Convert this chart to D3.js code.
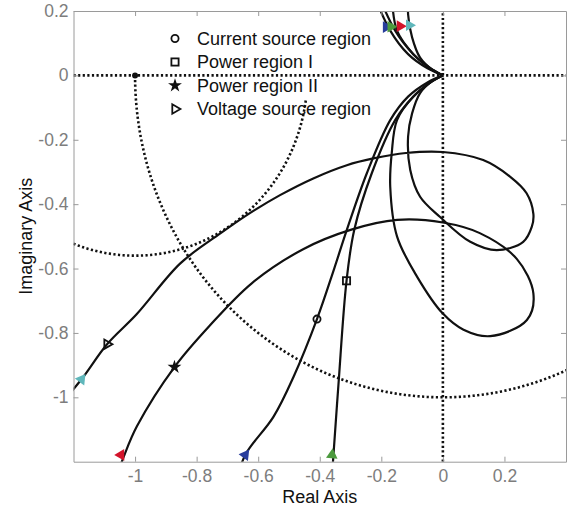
<!DOCTYPE html>
<html lang="en">
<head>
<meta charset="utf-8">
<title>Nyquist</title>
<script src="https://d3js.org/d3.v7.min.js"></script>
<style type="text/css">
  body { margin: 0; background: #fff; }
  text { font-family: "Liberation Sans", Arial, sans-serif; }
  .curve { fill: none; stroke: #111; stroke-width: 2.2; }
  .guide { fill: none; stroke: #111; stroke-width: 2.6; stroke-dasharray: 2.2 2.4; }
  .axis path, .axis line { stroke: #9a9a9a; }
  .axis text { fill: #7d7d7d; font-size: 17.5px; }
</style>
</head>
<body>
<script type="text/javascript">
// tick values
var xTicks = [-1, -0.8, -0.6, -0.4, -0.2, 0, 0.2];
var yTicks = [-1, -0.8, -0.6, -0.4, -0.2, 0, 0.2];

// lower branch of each locus (far end -> origin)
var curveCurrent = [[-0.67,-1.26],[-0.642,-1.179],[-0.55,-1.06],[-0.485,-0.936],[-0.409,-0.757],
  [-0.353,-0.6],[-0.312,-0.48],[-0.247,-0.304],[-0.171,-0.139],[-0.113,-0.066],[-0.05,-0.022],[0,0]];
var curvePower1 = [[-0.362,-1.26],[-0.357,-1.2],[-0.339,-0.957],[-0.313,-0.638],[-0.288,-0.48],
  [-0.231,-0.304],[-0.155,-0.139],[-0.096,-0.066],[-0.045,-0.025],[0,0]];
var curvePower2 = [[-1.065,-1.26],[-1.037,-1.185],[-0.994,-1.09],[-0.872,-0.906],[-0.76,-0.78],[-0.62,-0.645],
  [-0.454,-0.54],[-0.30,-0.48],[-0.149,-0.449],[0,-0.457],[0.12,-0.49],[0.24,-0.57],
  [0.294,-0.677],[0.273,-0.76],[0.154,-0.81],[0.067,-0.79],[0,-0.74],[-0.084,-0.625],[-0.149,-0.50],
  [-0.171,-0.346],[-0.166,-0.24],[-0.149,-0.139],[-0.096,-0.066],[-0.045,-0.025],[0,0]];
var curveVoltage = [[-1.25,-1.03],[-1.174,-0.944],[-1.091,-0.835],[-0.995,-0.742],[-0.853,-0.584],[-0.723,-0.491],
  [-0.637,-0.434],[-0.529,-0.372],[-0.421,-0.32],[-0.312,-0.279],[-0.226,-0.258],[-0.12,-0.241],[0,-0.238],
  [0.131,-0.263],[0.219,-0.315],[0.272,-0.366],[0.294,-0.43],[0.289,-0.47],[0.261,-0.517],[0.175,-0.543],
  [0.089,-0.517],[-0.009,-0.44],[-0.074,-0.377],[-0.106,-0.294],[-0.113,-0.19],[-0.10,-0.118],
  [-0.074,-0.055],[-0.035,-0.018],[0,0]];

// legend / marker points
var legendNames = ["Current source region", "Power region I", "Power region II", "Voltage source region"];
var markerPoints = [[-0.409,-0.757],[-0.313,-0.638],[-0.872,-0.906],[-1.091,-0.835]];

// coloured direction arrows (curve index, x, y)
var arrowColors = ["#283d9c", "#4c9a3e", "#d3142b", "#5fb7bb"];
var arrowsBottom = [[0,-0.642,-1.179],[1,-0.36,-1.179],[2,-1.046,-1.179],[3,-1.174,-0.944]];
var arrowsTop = [[0,-0.184,0.150],[1,-0.169,0.151],[2,-0.139,0.153],[3,-0.109,0.156]];

// guide circles
var unitRadius = 1;
var smallCenter = [-1, 0], smallRadius = 0.56;

var curves = [curveCurrent, curvePower1, curvePower2, curveVoltage];

var width = 571, height = 509;
var x = d3.scaleLinear().domain([-1.2, 0.4]).range([73.5, 566]);
var y = d3.scaleLinear().domain([-1.2, 0.2]).range([461.7, 11]);

var svg = d3.select("body").append("svg")
  .attr("width", width)
  .attr("height", height);

svg.append("clipPath").attr("id", "plot")
  .append("rect")
  .attr("x", x(-1.2)).attr("y", y(0.2))
  .attr("width", x(0.4) - x(-1.2)).attr("height", y(-1.2) - y(0.2));

var plot = svg.append("g").attr("clip-path", "url(#plot)");

var line = d3.line()
  .x(function(d) { return x(d[0]); })
  .y(function(d) { return y(d[1]); });
var smooth = d3.line()
  .x(function(d) { return x(d[0]); })
  .y(function(d) { return y(d[1]); })
  .curve(d3.curveCatmullRom.alpha(0.5));

// dotted guides
plot.append("path").attr("class", "guide")
  .attr("d", line([[-1.2, 0], [0.4, 0]]));
plot.append("path").attr("class", "guide")
  .attr("d", line([[0, -1.2], [0, 0.2]]));
var unitArc = d3.range(-180, 0.5, 1).map(function(a) {
  var t = a * Math.PI / 180;
  return [unitRadius * Math.cos(t), unitRadius * Math.sin(t)];
});
plot.append("path").attr("class", "guide").attr("d", smooth(unitArc));
var smallArc = d3.range(-8, -181, -1).map(function(a) {
  var t = a * Math.PI / 180;
  return [smallCenter[0] + smallRadius * Math.cos(t), smallCenter[1] + smallRadius * Math.sin(t)];
});
plot.append("path").attr("class", "guide").attr("d", smooth(smallArc));
plot.append("circle")
  .attr("cx", x(-1)).attr("cy", y(0)).attr("r", 3)
  .attr("fill", "#111");

// loci and their mirror images
curves.forEach(function(c) {
  plot.append("path").attr("class", "curve").attr("d", smooth(c));
  plot.append("path").attr("class", "curve")
    .attr("d", smooth(c.map(function(p) { return [p[0], -p[1]]; })));
});

// markers
function drawMarker(g, i, px, py) {
  if (i === 0) {
    g.append("circle").attr("cx", px).attr("cy", py).attr("r", 3.6)
      .attr("fill", "none").attr("stroke", "#111").attr("stroke-width", 1.8);
  } else if (i === 1) {
    g.append("rect").attr("x", px - 3.6).attr("y", py - 3.6)
      .attr("width", 7.2).attr("height", 7.2)
      .attr("fill", "none").attr("stroke", "#111").attr("stroke-width", 1.8);
  } else if (i === 2) {
    g.append("path").attr("d", d3.symbol().type(d3.symbolStar).size(60)())
      .attr("transform", "translate(" + px + "," + py + ")")
      .attr("fill", "#111");
  } else {
    g.append("path").attr("d", d3.symbol().type(d3.symbolTriangle).size(38)())
      .attr("transform", "translate(" + px + "," + py + ") rotate(90)")
      .attr("fill", "none").attr("stroke", "#111").attr("stroke-width", 1.8);
  }
}
markerPoints.forEach(function(p, i) {
  drawMarker(plot, i, x(p[0]), y(p[1]));
});

// arrows
var tri = d3.symbol().type(d3.symbolTriangle).size(58)();
arrowsBottom.forEach(function(a) {
  var c = curves[a[0]];
  var next = c.find(function(p) { return p[1] > a[2] + 0.03; });
  var ang = Math.atan2(y(next[1]) - y(a[2]), x(next[0]) - x(a[1])) * 180 / Math.PI + 90;
  plot.append("path").attr("d", tri)
    .attr("transform", "translate(" + x(a[1]) + "," + y(a[2]) + ") rotate(" + ang + ")")
    .attr("fill", arrowColors[a[0]]);
});
arrowsTop.forEach(function(a) {
  plot.append("path").attr("d", tri)
    .attr("transform", "translate(" + x(a[1]) + "," + y(a[2]) + ") rotate(90)")
    .attr("fill", arrowColors[a[0]]);
});

// axes
var fmt = function(d) { return String(d); };
svg.append("g").attr("class", "axis")
  .attr("transform", "translate(0," + y(-1.2) + ")")
  .call(d3.axisBottom(x).tickValues(xTicks).tickFormat(fmt).tickSizeInner(-5).tickSizeOuter(0).tickPadding(8));
svg.append("g").attr("class", "axis")
  .attr("transform", "translate(" + x(-1.2) + ",0)")
  .call(d3.axisLeft(y).tickValues(yTicks).tickFormat(fmt).tickSizeInner(-5).tickSizeOuter(0).tickPadding(5));
svg.append("g").attr("class", "axis")
  .attr("transform", "translate(0," + y(0.2) + ")")
  .call(d3.axisTop(x).tickValues(xTicks).tickFormat("").tickSizeInner(-5).tickSizeOuter(0));
svg.append("g").attr("class", "axis")
  .attr("transform", "translate(" + x(0.4) + ",0)")
  .call(d3.axisRight(y).tickValues(yTicks).tickFormat("").tickSizeInner(-5).tickSizeOuter(0));

// axis titles
svg.append("text")
  .attr("x", (x(-1.2) + x(0.4)) / 2).attr("y", 503)
  .attr("text-anchor", "middle").attr("font-size", 18).attr("fill", "#111")
  .text("Real Axis");
svg.append("text")
  .attr("transform", "translate(32," + (y(-1.2) + y(0.2)) / 2 + ") rotate(-90)")
  .attr("text-anchor", "middle").attr("font-size", 18).attr("fill", "#111")
  .text("Imaginary Axis");

// legend
var legend = svg.append("g");
legendNames.forEach(function(name, i) {
  var ly = 38.5 + i * 23.5;
  drawMarker(legend, i, 175, ly);
  legend.append("text")
    .attr("x", 197).attr("y", ly).attr("dy", "0.35em")
    .attr("font-size", 18).attr("fill", "#111")
    .text(name);
});
</script>
</body>
</html>
